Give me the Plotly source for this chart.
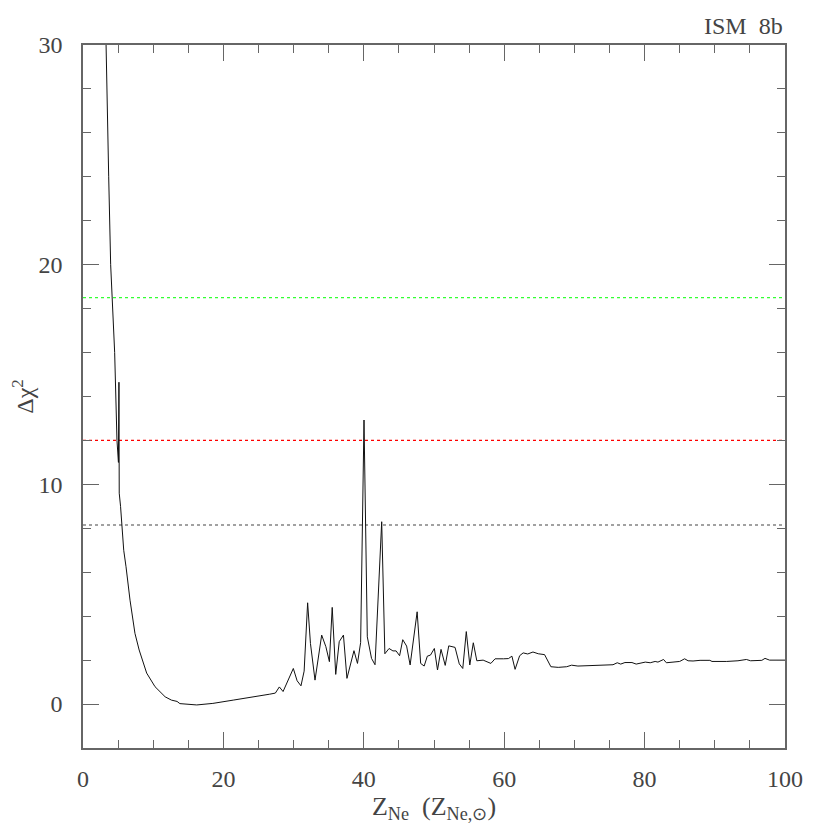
import plotly.graph_objects as go

# Delta chi^2 curve vs Z_Ne
z_ne = [3.1, 3.32, 3.66, 3.94, 4.18, 4.51, 4.84, 5.05, 5.12, 5.16, 5.35, 5.5, 5.8,
        6.13, 6.7, 7.4, 8.0, 9.07, 10.26, 11.7, 12.6, 13.4, 13.8, 16.2, 18.5, 21.4,
        24.0, 25.5, 26.6, 27.4, 27.97, 28.5, 29.96, 30.5, 31.05, 31.5, 32.0, 32.4,
        33.05, 34.0, 34.6, 35.1, 35.5, 36.0, 36.5, 37.1, 37.6, 38.6, 39.1, 39.55,
        40.03, 40.5, 41.1, 41.6, 42.55, 43.0, 43.6, 44.15, 44.6, 45.1, 45.55, 46.1,
        46.6, 47.6, 48.1, 48.6, 49.05, 49.5, 50.05, 50.5, 51.0, 51.6, 52.1, 53.0,
        53.6, 54.1, 54.6, 55.1, 55.6, 56.1, 57.0, 58.1, 58.7, 59.9, 60.6, 61.1,
        61.55, 62.2, 62.7, 63.35, 64.1, 64.85, 65.75, 66.65, 67.7, 68.9, 69.6, 70.5,
        72.7, 75.5, 76.1, 76.6, 77.2, 78.2, 78.8, 80.1, 80.8, 81.5, 81.9, 82.7,
        83.1, 84.0, 85.0, 85.7, 86.2, 86.9, 87.9, 89.3, 89.6, 91.7, 93.3, 94.5,
        95.1, 96.7, 97.15, 97.8, 98.8, 100.0]
dchi2 = [33.0, 30.0, 24.0, 20.0, 18.5, 16.0, 12.0, 11.0, 14.65, 9.6, 9.0, 8.15, 7.0,
         6.25, 4.73, 3.22, 2.46, 1.41, 0.79, 0.33, 0.18, 0.12, 0.02, -0.04, 0.03, 0.18,
         0.3, 0.4, 0.45, 0.50, 0.78, 0.57, 1.62, 1.06, 0.83, 1.50, 4.61, 2.76,
         1.09, 3.14, 2.61, 1.93, 4.40, 1.35, 2.84, 3.14, 1.17, 2.43, 1.85, 2.80,
         12.93, 3.06, 2.08, 1.79, 8.30, 2.29, 2.53, 2.42, 2.42, 2.20, 2.93, 2.64,
         1.78, 4.20, 1.85, 1.73, 2.18, 2.23, 2.53, 1.55, 2.49, 1.76, 2.65, 2.58,
         1.83, 1.62, 3.30, 1.78, 2.79, 1.97, 2.00, 1.85, 2.06, 2.06, 2.07, 2.18,
         1.58, 2.20, 2.33, 2.28, 2.37, 2.29, 2.25, 1.70, 1.67, 1.70, 1.77, 1.73,
         1.76, 1.79, 1.88, 1.82, 1.89, 1.89, 1.82, 1.91, 1.88, 1.94, 1.91, 2.03,
         1.88, 1.92, 1.94, 2.06, 1.97, 1.96, 1.99, 1.99, 1.94, 1.94, 1.97, 2.03,
         1.97, 1.99, 2.08, 2.00, 2.01, 2.00]

# Horizontal confidence levels
levels = [18.5, 12.0, 8.15]
level_colors = ["#33ff33", "#ff0000", "#444444"]

x_ticks = [0, 20, 40, 60, 80, 100]
y_ticks = [0, 10, 20, 30]

FONT = "Liberation Serif"
GREY = "#444444"
AX = "#666666"

fig = go.Figure()
fig.add_trace(go.Scatter(x=z_ne, y=dchi2, mode="lines",
                         line=dict(color="#111111", width=1), showlegend=False))

for lv, col in zip(levels, level_colors):
    fig.add_shape(type="line", xref="paper", x0=0, x1=1, yref="y", y0=lv, y1=lv,
                  line=dict(color=col, width=1.2, dash="3px,3px"), layer="below")

axis_common = dict(showgrid=False, zeroline=False, showline=True, linecolor=AX,
                   linewidth=1.5, mirror="allticks", ticks="inside", tickcolor=AX,
                   tickwidth=1.2, ticklen=16, automargin=False,
                   tickfont=dict(family=FONT, size=24, color=GREY))

fig.update_xaxes(range=[0, 100], tickvals=x_ticks, ticktext=[str(v) for v in x_ticks],
                 minor=dict(ticks="inside", ticklen=8, dtick=5, tick0=0, tickcolor=AX,
                            tickwidth=1.2),
                 ticklabelstandoff=8,
                 title=dict(text="Z<sub>Ne</sub>  (Z<sub>Ne,⊙</sub>)",
                            font=dict(family=FONT, size=26, color=GREY), standoff=2),
                 **axis_common)
fig.update_yaxes(range=[-2, 30], tickvals=y_ticks, ticktext=[str(v) for v in y_ticks],
                 minor=dict(ticks="inside", ticklen=8, dtick=2, tick0=0, tickcolor=AX,
                            tickwidth=1.2),
                 ticklabelstandoff=14,
                 title=dict(text="Δχ<sup>2</sup>",
                            font=dict(family=FONT, size=24, color=GREY), standoff=14),
                 **axis_common)

fig.add_annotation(text="ISM  8b", xref="paper", yref="paper", x=1, y=1,
                   xanchor="right", yanchor="bottom", yshift=4, showarrow=False,
                   font=dict(family=FONT, size=24, color=GREY))

# page body adds an 8px offset, so the figure is sized 822 and margins shifted
fig.update_layout(width=822, height=822, plot_bgcolor="white", paper_bgcolor="white",
                  margin=dict(l=75, r=45, t=37, b=82))

fig.write_html("out.html")
